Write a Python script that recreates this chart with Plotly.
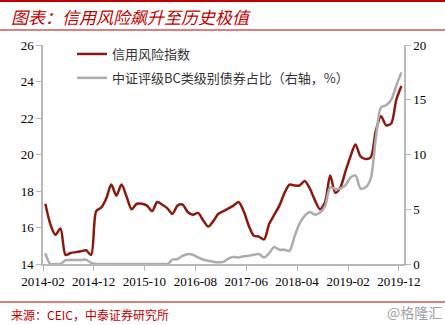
import pandas as pd
import plotly.graph_objects as go

months = pd.date_range("2014-02-01", "2019-12-01", freq="MS").strftime("%Y-%m-%d").tolist()

credit_risk_index = [
    17.3, 16.2, 15.6, 15.95, 14.5, 14.6, 14.65, 14.7, 14.75, 14.5,
    16.9, 17.1, 17.6, 18.35, 17.75, 18.35, 17.7, 17.0, 17.3, 17.3,
    17.2, 16.9, 17.4, 17.25, 17.05, 16.75, 17.2, 17.25, 16.85, 16.7,
    16.8, 16.4, 16.05, 16.35, 16.75, 16.9, 17.05, 17.2, 17.4, 16.9,
    16.1, 15.55, 15.5, 15.35, 16.2, 16.7, 17.2, 17.9, 18.35, 18.3,
    18.3, 18.55, 18.15, 17.5, 17.0, 17.4, 18.85, 17.9, 18.2, 19.1,
    19.9, 20.55, 19.9, 19.75, 19.85, 21.3, 22.1, 21.6, 21.7, 23.0,
    23.75,
]

bc_bond_share = [
    1.0, 0.0, 0.0, 0.0, 0.35, 0.37, 0.37, 0.37, 0.4, 0.1,
    0.0, 0.0, 0.0, 0.0, 0.0, 0.0, 0.0, 0.0, 0.0, 0.0,
    0.0, 0.0, 0.0, 0.0, 0.0, 0.4, 0.45, 0.75, 0.9, 0.85,
    0.6, 0.4, 0.3, 0.2, 0.15, 0.2, 0.5, 0.65, 0.6, 0.7,
    0.75, 0.85, 0.9, 0.6, 1.0, 1.55, 1.3, 1.3, 1.2, 2.5,
    3.7, 4.4, 4.75, 4.5, 4.7, 5.3, 7.0, 6.85, 6.9, 7.2,
    7.9, 8.1, 6.9, 7.0, 7.8, 11.5, 14.3, 14.5, 15.0, 16.3,
    17.5,
]

tick_dates = ["2014-02-01", "2014-12-01", "2015-10-01", "2016-08-01",
              "2017-06-01", "2018-04-01", "2019-02-01", "2019-12-01"]
tick_labels = ["2014-02", "2014-12", "2015-10", "2016-08",
               "2017-06", "2018-04", "2019-02", "2019-12"]

name_red = "信用风险指数"
name_gray = "中证评级BC类级别债券占比（右轴，%）"
title_text = "图表：信用风险飙升至历史极值"
source_text = "来源：CEIC，中泰证券研究所"
watermark = "@格隆汇"

W, H = 445, 325
L, R, T, B = 43, 404, 45, 264


def px_x(p):
    return (p - L) / (R - L)


def px_y(p):
    return (B - p) / (B - T)


CJK = "Noto Sans CJK SC"
SERIF = "Liberation Serif"

fig = go.Figure()
fig.add_trace(go.Scatter(
    x=months, y=credit_risk_index, name=name_red, mode="lines",
    xperiod="M1", xperiodalignment="middle", legendgroup="a",
    line=dict(color="#8B1A0E", width=2.5, shape="spline", smoothing=0.8),
    yaxis="y",
))
fig.add_trace(go.Scatter(
    x=months, y=bc_bond_share, name=name_gray, mode="lines",
    xperiod="M1", xperiodalignment="middle", legendgroup="b",
    line=dict(color="#ABABAB", width=2.5, shape="spline", smoothing=0.8),
    yaxis="y2",
))

axis_col = "#B8B8B8"
fig.update_layout(
    width=W, height=H,
    margin=dict(l=L, r=W - R, t=T, b=H - B),
    paper_bgcolor="white", plot_bgcolor="white",
    showlegend=True,
    legend=dict(
        x=px_x(72), y=px_y(39), xanchor="left", yanchor="top",
        bgcolor="rgba(0,0,0,0)",
        font=dict(family=CJK, size=13, color="#333333"),
        tracegroupgap=4,
    ),
    xaxis=dict(
        type="date", range=["2014-02-01", "2020-01-01"],
        tickmode="array", tickvals=tick_dates, ticktext=tick_labels,
        ticks="outside", ticklen=5, tickcolor=axis_col,
        showline=True, linecolor=axis_col, linewidth=1.5,
        showgrid=False, zeroline=False,
        tickfont=dict(family=SERIF, size=13, color="#000000"),
    ),
    yaxis=dict(
        range=[14, 26], tickvals=[14, 16, 18, 20, 22, 24, 26],
        ticks="outside", ticklen=5, tickcolor=axis_col,
        showline=True, linecolor=axis_col, linewidth=1.5,
        showgrid=False, zeroline=False,
        tickfont=dict(family=SERIF, size=13, color="#000000"),
    ),
    yaxis2=dict(
        range=[0, 20], tickvals=[0, 5, 10, 15, 20],
        overlaying="y", side="right",
        ticks="outside", ticklen=5, tickcolor=axis_col,
        showline=True, linecolor=axis_col, linewidth=1.5,
        showgrid=False, zeroline=False,
        tickfont=dict(family=SERIF, size=13, color="#000000"),
    ),
)

red = "#C00000"
shapes = [
    dict(type="line", xref="paper", yref="paper", x0=px_x(0), x1=px_x(W),
         y0=px_y(1), y1=px_y(1), line=dict(color=red, width=2)),
    dict(type="line", xref="paper", yref="paper", x0=px_x(0), x1=px_x(W),
         y0=px_y(30), y1=px_y(30), line=dict(color=red, width=1.2)),
    dict(type="line", xref="paper", yref="paper", x0=px_x(0), x1=px_x(W),
         y0=px_y(302), y1=px_y(302), line=dict(color=red, width=1.2)),
]
fig.update_layout(shapes=shapes)

fig.add_annotation(
    text=title_text, xref="paper", yref="paper", x=px_x(9), y=px_y(16),
    xanchor="left", yanchor="middle", showarrow=False,
    font=dict(family=CJK, size=17, color=red, style="italic"),
)
fig.add_annotation(
    text=source_text, xref="paper", yref="paper", x=px_x(9), y=px_y(314),
    xanchor="left", yanchor="middle", showarrow=False,
    font=dict(family=CJK, size=12, color=red),
)
fig.add_annotation(
    text=watermark, xref="paper", yref="paper", x=px_x(444), y=px_y(312),
    xanchor="right", yanchor="middle", showarrow=False,
    font=dict(family=CJK, size=14, color="#A0A0A0"),
)

fig.write_html("out.html")
